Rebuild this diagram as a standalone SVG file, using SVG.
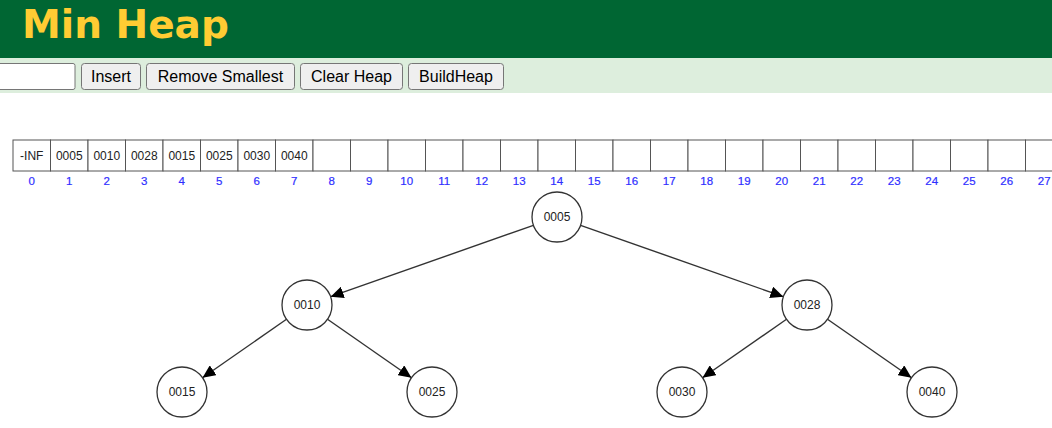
<svg xmlns="http://www.w3.org/2000/svg" width="1052" height="428" viewBox="0 0 1052 428">
<style>
.btn{fill:#efefef;stroke:#767676;stroke-width:1}
.btxt{font-family:"Liberation Sans",Arial,sans-serif;font-size:16px;fill:#000;text-anchor:middle}
.cell{fill:#fff;stroke:#555;stroke-width:1}
.val{font-family:"Liberation Sans",Arial,sans-serif;font-size:12px;fill:#222;text-anchor:middle}
.idx{font-family:"Liberation Sans",Arial,sans-serif;font-size:11.5px;fill:#2f2fff;stroke:#2f2fff;stroke-width:0.2;text-anchor:middle}
.node circle{fill:#fff;stroke:#333;stroke-width:1.3}
.node text{font-family:"Liberation Sans",Arial,sans-serif;font-size:12px;fill:#222;text-anchor:middle}
.edge{stroke:#333;stroke-width:1.4;fill:none;marker-end:url(#arr)}
</style>
<defs>
<marker id="arr" markerUnits="userSpaceOnUse" markerWidth="14" markerHeight="12" refX="13" refY="6" orient="auto">
<path d="M0,0 L13,6 L0,12 Z" fill="#000"/>
</marker>
</defs>
<rect width="1052" height="428" fill="#fff"/>
<rect x="0" y="0" width="1052" height="58" fill="#006633"/>
<text x="22" y="38" font-family="'DejaVu Sans',Verdana,sans-serif" font-weight="bold" font-size="39" fill="#ffcc33">Min Heap</text>
<rect x="0" y="58" width="1052" height="35" fill="#ddeedd"/>
<g id="toolbar">
<rect x="-4" y="63.5" width="79" height="26" rx="2" fill="#fff" stroke="#767676"/>
<rect class="btn" x="81.5" y="63.5" width="59" height="26" rx="3"/>
<text class="btxt" x="111" y="81.5">Insert</text>
<rect class="btn" x="146.5" y="63.5" width="148" height="26" rx="3"/>
<text class="btxt" x="220.5" y="81.5">Remove Smallest</text>
<rect class="btn" x="300.5" y="63.5" width="102" height="26" rx="3"/>
<text class="btxt" x="351.5" y="81.5">Clear Heap</text>
<rect class="btn" x="408.5" y="63.5" width="95" height="26" rx="3"/>
<text class="btxt" x="456" y="81.5">BuildHeap</text>
</g>
<g id="array">
<rect class="cell" x="13" y="140" width="37.5" height="31"/>
<rect class="cell" x="50.5" y="140" width="37.5" height="31"/>
<rect class="cell" x="88" y="140" width="37.5" height="31"/>
<rect class="cell" x="125.5" y="140" width="37.5" height="31"/>
<rect class="cell" x="163" y="140" width="37.5" height="31"/>
<rect class="cell" x="200.5" y="140" width="37.5" height="31"/>
<rect class="cell" x="238" y="140" width="37.5" height="31"/>
<rect class="cell" x="275.5" y="140" width="37.5" height="31"/>
<rect class="cell" x="313" y="140" width="37.5" height="31"/>
<rect class="cell" x="350.5" y="140" width="37.5" height="31"/>
<rect class="cell" x="388" y="140" width="37.5" height="31"/>
<rect class="cell" x="425.5" y="140" width="37.5" height="31"/>
<rect class="cell" x="463" y="140" width="37.5" height="31"/>
<rect class="cell" x="500.5" y="140" width="37.5" height="31"/>
<rect class="cell" x="538" y="140" width="37.5" height="31"/>
<rect class="cell" x="575.5" y="140" width="37.5" height="31"/>
<rect class="cell" x="613" y="140" width="37.5" height="31"/>
<rect class="cell" x="650.5" y="140" width="37.5" height="31"/>
<rect class="cell" x="688" y="140" width="37.5" height="31"/>
<rect class="cell" x="725.5" y="140" width="37.5" height="31"/>
<rect class="cell" x="763" y="140" width="37.5" height="31"/>
<rect class="cell" x="800.5" y="140" width="37.5" height="31"/>
<rect class="cell" x="838" y="140" width="37.5" height="31"/>
<rect class="cell" x="875.5" y="140" width="37.5" height="31"/>
<rect class="cell" x="913" y="140" width="37.5" height="31"/>
<rect class="cell" x="950.5" y="140" width="37.5" height="31"/>
<rect class="cell" x="988" y="140" width="37.5" height="31"/>
<rect class="cell" x="1025.5" y="140" width="37.5" height="31"/>
<text class="val" x="31.75" y="160">-INF</text>
<text class="val" x="69.25" y="160">0005</text>
<text class="val" x="106.75" y="160">0010</text>
<text class="val" x="144.25" y="160">0028</text>
<text class="val" x="181.75" y="160">0015</text>
<text class="val" x="219.25" y="160">0025</text>
<text class="val" x="256.75" y="160">0030</text>
<text class="val" x="294.25" y="160">0040</text>
<text class="idx" x="31.75" y="184.5">0</text>
<text class="idx" x="69.25" y="184.5">1</text>
<text class="idx" x="106.75" y="184.5">2</text>
<text class="idx" x="144.25" y="184.5">3</text>
<text class="idx" x="181.75" y="184.5">4</text>
<text class="idx" x="219.25" y="184.5">5</text>
<text class="idx" x="256.75" y="184.5">6</text>
<text class="idx" x="294.25" y="184.5">7</text>
<text class="idx" x="331.75" y="184.5">8</text>
<text class="idx" x="369.25" y="184.5">9</text>
<text class="idx" x="406.75" y="184.5">10</text>
<text class="idx" x="444.25" y="184.5">11</text>
<text class="idx" x="481.75" y="184.5">12</text>
<text class="idx" x="519.25" y="184.5">13</text>
<text class="idx" x="556.75" y="184.5">14</text>
<text class="idx" x="594.25" y="184.5">15</text>
<text class="idx" x="631.75" y="184.5">16</text>
<text class="idx" x="669.25" y="184.5">17</text>
<text class="idx" x="706.75" y="184.5">18</text>
<text class="idx" x="744.25" y="184.5">19</text>
<text class="idx" x="781.75" y="184.5">20</text>
<text class="idx" x="819.25" y="184.5">21</text>
<text class="idx" x="856.75" y="184.5">22</text>
<text class="idx" x="894.25" y="184.5">23</text>
<text class="idx" x="931.75" y="184.5">24</text>
<text class="idx" x="969.25" y="184.5">25</text>
<text class="idx" x="1006.75" y="184.5">26</text>
<text class="idx" x="1044.25" y="184.5">27</text>
</g>
<g id="connectors">
<line class="edge" x1="533.4" y1="225.3" x2="330.6" y2="296.7"/>
<line class="edge" x1="580.6" y1="225.3" x2="783.4" y2="296.7"/>
<line class="edge" x1="286.5" y1="319.3" x2="202.5" y2="377.7"/>
<line class="edge" x1="327.5" y1="319.3" x2="411.5" y2="377.7"/>
<line class="edge" x1="786.5" y1="319.3" x2="702.5" y2="377.7"/>
<line class="edge" x1="827.5" y1="319.3" x2="911.5" y2="377.7"/>
</g>
<g id="n0005" class="node"><circle cx="557" cy="217" r="25"/><text x="557" y="221">0005</text></g>
<g id="n0010" class="node"><circle cx="307" cy="305" r="25"/><text x="307" y="309">0010</text></g>
<g id="n0028" class="node"><circle cx="807" cy="305" r="25"/><text x="807" y="309">0028</text></g>
<g id="n0015" class="node"><circle cx="182" cy="392" r="25"/><text x="182" y="396">0015</text></g>
<g id="n0025" class="node"><circle cx="432" cy="392" r="25"/><text x="432" y="396">0025</text></g>
<g id="n0030" class="node"><circle cx="682" cy="392" r="25"/><text x="682" y="396">0030</text></g>
<g id="n0040" class="node"><circle cx="932" cy="392" r="25"/><text x="932" y="396">0040</text></g>
</svg>
